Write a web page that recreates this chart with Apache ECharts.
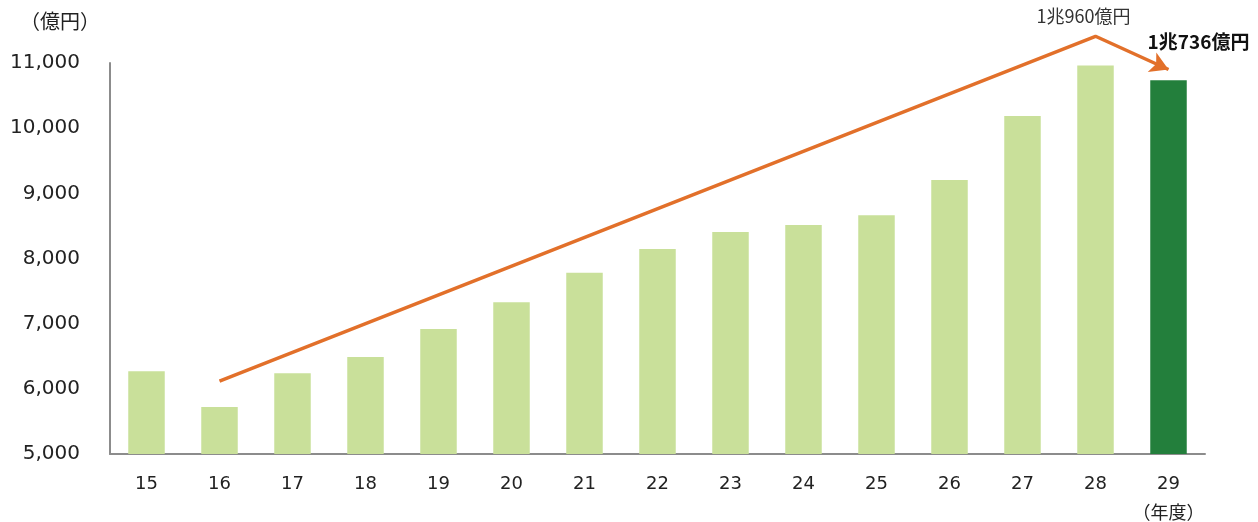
<!DOCTYPE html>
<html><head><meta charset="utf-8">
<script src="https://cdn.jsdelivr.net/npm/echarts@6/dist/echarts.min.js"></script>
<style>html,body{margin:0;padding:0;background:#fff}#c{width:1258px;height:522px}</style>
</head><body><div id="c"></div>
<script>
const categories = ['15','16','17','18','19','20','21','22','23','24','25','26','27','28','29'];
const values = [6270, 5720, 6240, 6490, 6920, 7330, 7780, 8145, 8405, 8515, 8665, 9205, 10185, 10960, 10736];
// trend arrow annotation (data space): start at 16, peak above 28, tip at 29
const trendValues = [null, 6120, null, null, null, null, null, null, null, null, null, null, null, 11410, 10900];
const peakLabel = '1兆960億円';
const lastLabel = '1兆736億円';
const yTicks = {min: 5000, max: 11000, interval: 1000};

const font = 'DejaVu Sans';
const chart = echarts.init(document.getElementById('c'));
chart.setOption({
  animation: false,
  grid: {left: 110, right: 53, top: 63, bottom: 68, containLabel: false, outerBoundsMode: 'none'},
  xAxis: {
    type: 'category', data: categories,
    axisLine: {lineStyle: {color: '#8c8c8c', width: 2}},
    axisTick: {show: false},
    axisLabel: {
      interval: 0,
      margin: 16, color: '#222', fontFamily: font, fontSize: 18, lineHeight: 28,
      formatter: (v, i) => i === categories.length - 1 ? v + '\n{u|（年度）}' : v,
      rich: {u: {fontFamily: 'Noto Sans CJK JP', fontSize: 18, color: '#222', lineHeight: 28}}
    }
  },
  yAxis: {
    type: 'value', min: yTicks.min, max: yTicks.max, interval: yTicks.interval,
    name: '（億円）', nameLocation: 'end', nameGap: 32,
    nameTextStyle: {fontFamily: 'Noto Sans CJK JP', fontSize: 20, color: '#222', align: 'right', padding: [0, 10, 0, 0]},
    axisLine: {show: true, lineStyle: {color: '#8c8c8c', width: 2}},
    axisTick: {show: false},
    splitLine: {show: false},
    axisLabel: {margin: 30, color: '#222', fontFamily: font, fontSize: 20,
      formatter: v => v.toLocaleString('en-US')}
  },
  series: [{
    type: 'bar', barWidth: '50%',
    data: values.map((v, i) => i === values.length - 1 ? {
      value: v, itemStyle: {color: '#237F3C'},
      label: {show: true, position: 'top', offset: [30, -24], formatter: lastLabel,
        fontFamily: 'Noto Sans CJK JP', fontWeight: 'bold', fontSize: 19, color: '#111'}
    } : {value: v}),
    itemStyle: {color: '#C9E09A'}
  }, {
    type: 'line', data: trendValues.map((v, i) => {
      if (i === 13) return {value: v, label: {show: true, position: 'top', offset: [-12, -6], formatter: peakLabel,
        fontFamily: 'Noto Sans CJK JP', fontSize: 18, color: '#333'}};
      if (i === 14) return {value: v, symbol: 'arrow', symbolSize: [16, 18], symbolRotate: -113.7,
        itemStyle: {color: '#E2702A'}};
      return v;
    }),
    connectNulls: true, clip: false, symbol: 'circle', symbolSize: 0.1, showSymbol: true,
    lineStyle: {color: '#E2702A', width: 3.5},
    itemStyle: {color: '#E2702A'},
    z: 5
  }]
});
</script></body></html>
